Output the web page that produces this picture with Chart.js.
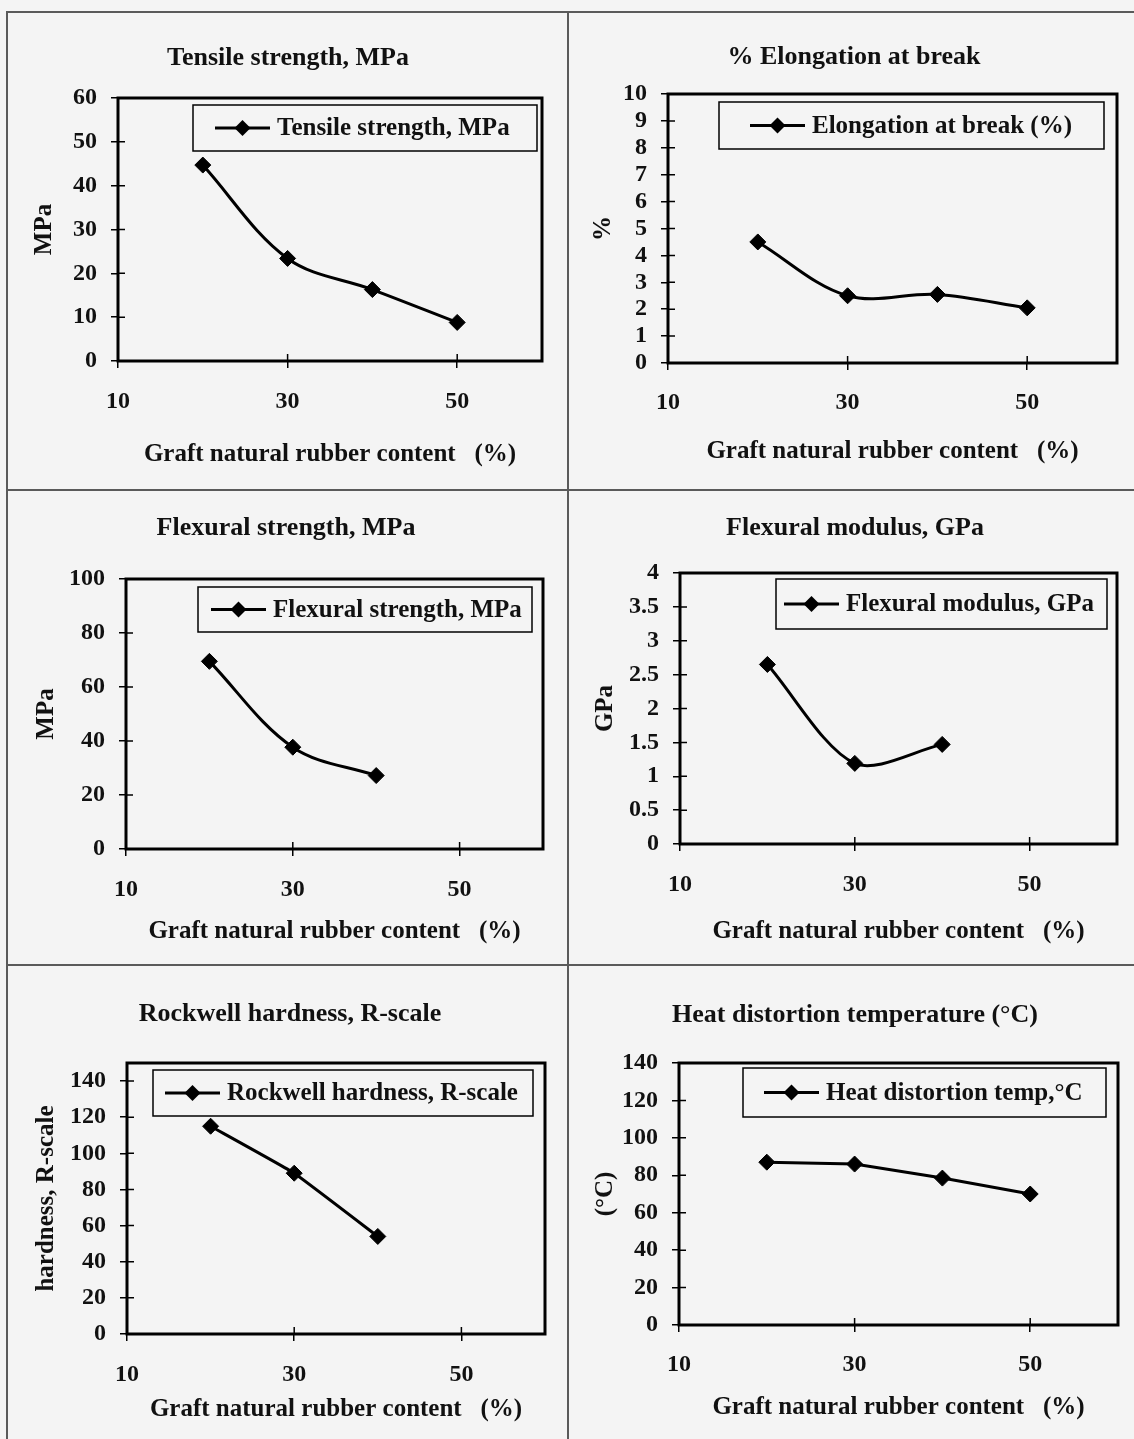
<!DOCTYPE html>
<html>
<head>
<meta charset="utf-8">
<script src="https://cdn.jsdelivr.net/npm/chart.js@4.4.0/dist/chart.umd.min.js"></script>
<style>
  body { margin: 0; background: #f4f4f4; width: 1134px; height: 1439px; position: relative; overflow: hidden; }
  canvas { position: absolute; }
  .rule { position: absolute; background: #5a5a5a; }
</style>
</head>
<body>
<div class="rule" style="left:6px;top:11px;width:1128px;height:2px"></div>
<div class="rule" style="left:6px;top:11px;width:2px;height:1428px"></div>
<div class="rule" style="left:567px;top:11px;width:2px;height:1428px"></div>
<div class="rule" style="left:6px;top:489px;width:1128px;height:2px"></div>
<div class="rule" style="left:6px;top:964px;width:1128px;height:2px"></div>

<canvas id="c1"></canvas>
<canvas id="c2"></canvas>
<canvas id="c3"></canvas>
<canvas id="c4"></canvas>
<canvas id="c5"></canvas>
<canvas id="c6"></canvas>

<script>
const FONT = '"Liberation Serif", "Times New Roman", serif';
Chart.defaults.font.family = FONT;
Chart.defaults.font.weight = 'bold';
Chart.defaults.color = '#111';

// graft natural rubber content (%)
const graftContent = [20, 30, 40, 50];

// measured properties
const tensileStrength = [44.7, 23.4, 16.3, 8.8];
const elongationBreak = [4.5, 2.5, 2.55, 2.05];
const flexuralStrength = [69.5, 37.7, 27.2];
const flexuralModulus = [2.65, 1.19, 1.47];
const rockwellHardness = [115, 89, 54];
const heatDistortion = [87, 86, 78.5, 70];

// tick labels
const xTickValues = [10, 30, 50];
const tensileTicks = [0, 10, 20, 30, 40, 50, 60];
const elongationTicks = [0, 1, 2, 3, 4, 5, 6, 7, 8, 9, 10];
const flexStrengthTicks = [0, 20, 40, 60, 80, 100];
const flexModulusTicks = [0, 0.5, 1, 1.5, 2, 2.5, 3, 3.5, 4];
const rockwellTicks = [0, 20, 40, 60, 80, 100, 120, 140];
const heatTicks = [0, 20, 40, 60, 80, 100, 120, 140];

const xAxisTitle = 'Graft natural rubber content   (%)';

// panel layout in page pixels
const panels = [
  { id: 'c1', title: 'Tensile strength, MPa', label: 'Tensile strength, MPa', yTitle: 'MPa',
    values: tensileStrength, yTicks: tensileTicks, yMax: 60, tension: 0.35,
    cell: [8, 13, 560, 477], plot: [118, 98, 542, 361], titleCX: 288, titleY: 58,
    yTitleX: 45, xTickY: 402, xTitleY: 455, legendBox: [193, 105, 537, 151], legendLineX: 215 },
  { id: 'c2', title: '% Elongation at break', label: 'Elongation at break (%)', yTitle: '%',
    values: elongationBreak, yTicks: elongationTicks, yMax: 10, tension: 0.35,
    cell: [569, 13, 565, 477], plot: [668, 94, 1117, 363], titleCX: 854, titleY: 57,
    yTitleX: 604, xTickY: 403, xTitleY: 452, legendBox: [719, 102, 1104, 149], legendLineX: 750 },
  { id: 'c3', title: 'Flexural strength, MPa', label: 'Flexural strength, MPa', yTitle: 'MPa',
    values: flexuralStrength, yTicks: flexStrengthTicks, yMax: 100, tension: 0.35,
    cell: [8, 491, 560, 474], plot: [126, 579, 543, 849], titleCX: 286, titleY: 528,
    yTitleX: 47, xTickY: 890, xTitleY: 932, legendBox: [198, 587, 532, 632], legendLineX: 211 },
  { id: 'c4', title: 'Flexural modulus, GPa', label: 'Flexural modulus, GPa', yTitle: 'GPa',
    values: flexuralModulus, yTicks: flexModulusTicks, yMax: 4, tension: 0.3,
    cell: [569, 491, 565, 474], plot: [680, 573, 1117, 844], titleCX: 855, titleY: 528,
    yTitleX: 606, xTickY: 885, xTitleY: 932, legendBox: [776, 579, 1107, 629], legendLineX: 784 },
  { id: 'c5', title: 'Rockwell hardness, R-scale', label: 'Rockwell hardness, R-scale', yTitle: 'hardness, R-scale',
    values: rockwellHardness, yTicks: rockwellTicks, yMax: 150, tension: 0.1,
    cell: [8, 966, 560, 473], plot: [127, 1063, 545, 1334], titleCX: 290, titleY: 1014,
    yTitleX: 47, xTickY: 1375, xTitleY: 1410, legendBox: [153, 1070, 533, 1116], legendLineX: 165 },
  { id: 'c6', title: 'Heat distortion temperature (°C)', label: 'Heat distortion temp,°C', yTitle: '(°C)',
    values: heatDistortion, yTicks: heatTicks, yMax: 140, tension: 0,
    cell: [569, 966, 565, 473], plot: [679, 1063, 1118, 1325], titleCX: 855, titleY: 1015,
    yTitleX: 606, xTickY: 1365, xTitleY: 1408, legendBox: [743, 1068, 1106, 1117], legendLineX: 764 }
];

// thick frame around the plot area plus the inner half of the cross tick marks
const plotFrame = {
  id: 'plotFrame',
  beforeDatasetsDraw(chart) {
    const { ctx, chartArea: a, scales } = chart;
    ctx.save();
    ctx.strokeStyle = '#000';
    ctx.lineWidth = 1.5;
    ctx.beginPath();
    scales.x.ticks.forEach(t => {
      const px = scales.x.getPixelForValue(t.value);
      ctx.moveTo(px, a.bottom);
      ctx.lineTo(px, a.bottom - 7);
    });
    scales.y.ticks.forEach(t => {
      const py = scales.y.getPixelForValue(t.value);
      ctx.moveTo(a.left, py);
      ctx.lineTo(a.left + 7, py);
    });
    ctx.stroke();
    ctx.lineWidth = 3;
    ctx.strokeRect(a.left, a.top, a.right - a.left, a.bottom - a.top);
    ctx.restore();
  }
};

// boxed legend inside the plot area (line + diamond + label)
const boxLegend = {
  id: 'boxLegend',
  afterDatasetsDraw(chart, args, opts) {
    const { ctx } = chart;
    const ds = chart.data.datasets[0];
    const [x1, y1, x2, y2] = opts.box;
    const cy = (y1 + y2) / 2;
    const lx = opts.lineX;
    ctx.save();
    ctx.fillStyle = '#f4f4f4';
    ctx.fillRect(x1, y1, x2 - x1, y2 - y1);
    ctx.strokeStyle = '#000';
    ctx.lineWidth = 1.5;
    ctx.strokeRect(x1, y1, x2 - x1, y2 - y1);
    ctx.lineWidth = ds.borderWidth;
    ctx.beginPath();
    ctx.moveTo(lx, cy);
    ctx.lineTo(lx + 55, cy);
    ctx.stroke();
    const r = 8;
    ctx.fillStyle = '#000';
    ctx.beginPath();
    ctx.moveTo(lx + 27.5, cy - r);
    ctx.lineTo(lx + 27.5 + r, cy);
    ctx.lineTo(lx + 27.5, cy + r);
    ctx.lineTo(lx + 27.5 - r, cy);
    ctx.closePath();
    ctx.fill();
    ctx.fillStyle = '#111';
    ctx.font = 'bold 25px ' + FONT;
    ctx.textBaseline = 'middle';
    ctx.textAlign = 'left';
    ctx.fillText(ds.label, lx + 62, cy + 1);
    ctx.restore();
  }
};

const TITLE_SIZE = 26, AXIS_TITLE_SIZE = 25, TICK_SIZE = 24, TICK_LEN = 7;

panels.forEach(p => {
  const [cx, cy, W, H] = p.cell;
  const canvas = document.getElementById(p.id);
  canvas.width = W;
  canvas.height = H;
  canvas.style.left = cx + 'px';
  canvas.style.top = cy + 'px';

  const L = p.plot[0] - cx, T = p.plot[1] - cy, R = p.plot[2] - cx, B = p.plot[3] - cy;
  const lh = TITLE_SIZE * 1.2;
  const alh = AXIS_TITLE_SIZE * 1.2;
  const padRight = W - R;
  const padLeft = 2 * (p.titleCX - cx) - R;
  const titleTop = (p.titleY - cy) - lh / 2;
  const titleBottom = T - titleTop - lh;

  new Chart(canvas, {
    type: 'line',
    data: {
      datasets: [{
        label: p.label,
        data: p.values.map((v, i) => ({ x: graftContent[i], y: v })),
        borderColor: '#000',
        backgroundColor: '#000',
        borderWidth: 3,
        pointStyle: 'rectRot',
        pointRadius: 8,
        pointBorderWidth: 1,
        tension: p.tension,
        fill: false
      }]
    },
    options: {
      responsive: false,
      animation: false,
      layout: { padding: { left: padLeft, right: padRight, top: 0, bottom: 0 } },
      plugins: {
        legend: { display: false },
        tooltip: { enabled: false },
        title: {
          display: true,
          text: p.title,
          color: '#111',
          font: { size: TITLE_SIZE, weight: 'bold', lineHeight: 1.2 },
          padding: { top: titleTop, bottom: titleBottom }
        },
        boxLegend: {
          box: [p.legendBox[0] - cx, p.legendBox[1] - cy, p.legendBox[2] - cx, p.legendBox[3] - cy],
          lineX: p.legendLineX - cx
        }
      },
      scales: {
        x: {
          type: 'linear',
          min: 10,
          max: 60,
          afterFit: s => { s.height = H - B; },
          afterBuildTicks: s => { s.ticks = xTickValues.map(v => ({ value: v })); },
          border: { display: false },
          grid: { drawOnChartArea: false, drawTicks: true, tickLength: TICK_LEN, color: '#000', lineWidth: 1.5 },
          ticks: {
            autoSkip: false,
            maxRotation: 0,
            color: '#111',
            font: { size: TICK_SIZE },
            padding: (p.xTickY - p.plot[3]) - TICK_LEN - TICK_SIZE * 0.6,
            callback: v => String(v)
          },
          title: {
            display: true,
            text: xAxisTitle,
            color: '#111',
            font: { size: AXIS_TITLE_SIZE, lineHeight: 1.2 },
            padding: { top: 0, bottom: (H - (p.xTitleY - cy)) - alh / 2 }
          }
        },
        y: {
          min: 0,
          max: p.yMax,
          afterFit: s => { s.width = L - padLeft; },
          afterBuildTicks: s => { s.ticks = p.yTicks.map(v => ({ value: v })); },
          border: { display: false },
          grid: { drawOnChartArea: false, drawTicks: true, tickLength: TICK_LEN, color: '#000', lineWidth: 1.5 },
          ticks: {
            autoSkip: false,
            color: '#111',
            font: { size: TICK_SIZE },
            padding: 14,
            callback: v => String(v)
          },
          title: {
            display: true,
            text: p.yTitle,
            color: '#111',
            font: { size: AXIS_TITLE_SIZE, lineHeight: 1.2 },
            padding: { top: (p.yTitleX - cx) - padLeft - alh / 2, bottom: 0 }
          }
        }
      }
    },
    plugins: [plotFrame, boxLegend]
  });
});
</script>
</body>
</html>
